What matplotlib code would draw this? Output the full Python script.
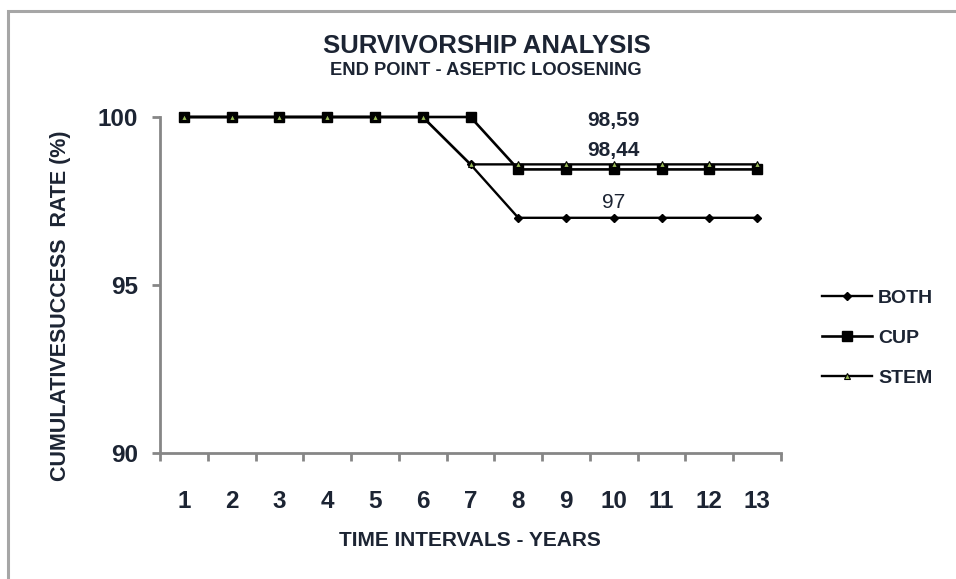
import matplotlib
matplotlib.use("Agg")
import matplotlib.pyplot as plt
from matplotlib.patches import Rectangle
from matplotlib.ticker import FixedLocator, NullFormatter

plt.rcParams['font.family'] = ['Liberation Sans', 'DejaVu Sans']

years = list(range(1, 14))
both = [100, 100, 100, 100, 100, 100, 98.59, 97, 97, 97, 97, 97, 97]
cup = [100, 100, 100, 100, 100, 100, 100, 98.44, 98.44, 98.44, 98.44, 98.44, 98.44]
stem = [100, 100, 100, 100, 100, 100, 98.59, 98.59, 98.59, 98.59, 98.59, 98.59, 98.59]

# value labels: (year, value, text, pixel offset above point, bold)
labels = [(10, 98.59, '98,59', 44, 'bold'),
          (10, 98.44, '98,44', 19, 'bold'),
          (10, 97, '97', 15, 'normal')]

fig = plt.figure(figsize=(9.56, 5.79), dpi=100)
ax = fig.add_axes([160/956, 1 - 453/579, (781-160)/956, (453-117)/579])

# grey frame around the chart area
fig.patches.append(Rectangle((8/956, -0.1), 1.2, 1 - 11/579 + 0.1, transform=fig.transFigure,
                             fill=False, edgecolor='#a6a6a6', linewidth=2.2))

ax.plot(years, both, color='black', lw=1.7, marker='D', ms=4, mfc='black', mec='black',
        label='BOTH', clip_on=False, zorder=3)
ax.plot(years, cup, color='black', lw=1.9, marker='s', ms=6.5, mfc='black', mec='black',
        label='CUP', clip_on=False, zorder=3)
ax.plot(years, stem, color='black', lw=1.7, marker='^', ms=5, mfc='#9bbb59', mec='black',
        mew=0.8, label='STEM', clip_on=False, zorder=4)

for x, v, txt, off, w in labels:
    ax.annotate(txt, xy=(x, v), xytext=(0, off), textcoords='offset pixels',
                ha='center', va='center', fontsize=15, fontweight=w, color='#1c2433')

ax.set_xlim(0.5, 13.5)
ax.set_ylim(90, 100)
ax.set_yticks([90, 95, 100])
ax.set_xticks(years)
ax.xaxis.set_minor_locator(FixedLocator([i + 0.5 for i in range(0, 14)]))
ax.xaxis.set_minor_formatter(NullFormatter())
ax.tick_params(axis='x', which='major', length=0, pad=27, labelsize=17.5)
ax.tick_params(axis='x', which='minor', length=6, width=2, color='#868686', direction='out')
ax.tick_params(axis='y', length=6, width=2, color='#868686', pad=10, labelsize=17.5)
for lab in ax.get_xticklabels() + ax.get_yticklabels():
    lab.set_fontweight('bold')
    lab.set_color('#1c2433')

for s in ['top', 'right']:
    ax.spines[s].set_visible(False)
for s in ['left', 'bottom']:
    ax.spines[s].set_color('#868686')
    ax.spines[s].set_linewidth(2)

fig.text(487/956, 1 - 46/579, 'SURVIVORSHIP ANALYSIS', ha='center', va='center',
         fontsize=18.5, fontweight='bold', color='#1c2433')
fig.text(486/956, 1 - 70/579, 'END POINT - ASEPTIC LOOSENING', ha='center', va='center',
         fontsize=13.2, fontweight='bold', color='#1c2433')
fig.text(470/956, 1 - 540/579, 'TIME INTERVALS - YEARS', ha='center', va='center',
         fontsize=15, fontweight='bold', color='#1c2433')
fig.text(61/956, 1 - 306/579, 'CUMULATIVESUCCESS  RATE (%)', ha='center', va='center',
         rotation=90, fontsize=15.5, fontweight='bold', color='#1c2433')

leg = ax.legend(loc='center left', bbox_to_anchor=(812/956, 1 - 338/579),
                bbox_transform=fig.transFigure, frameon=False, fontsize=14,
                handlelength=2.6, handletextpad=0.3, labelspacing=1.15, borderpad=0)
for t in leg.get_texts():
    t.set_fontweight('bold')
    t.set_color('#1c2433')

fig.savefig('out.png', dpi=100)
